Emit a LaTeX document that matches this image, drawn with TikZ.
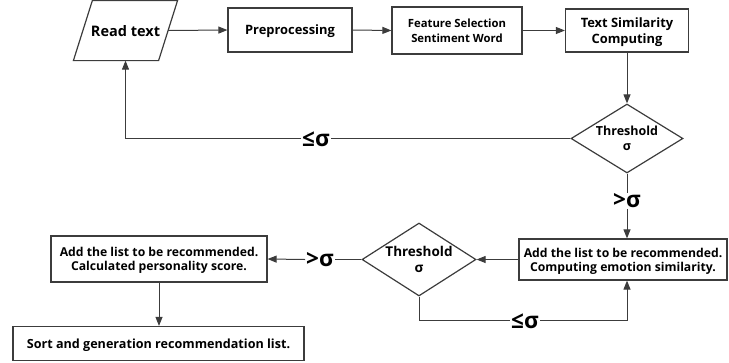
\documentclass[tikz,border=0pt]{standalone}
\usepackage{fontspec}
\setmainfont{Open Sans}
\usetikzlibrary{shapes.geometric,arrows.meta}
\definecolor{linegray}{HTML}{3C3C3C}
\tikzset{
  x=1pt, y=-1pt,
  base/.style={draw=linegray, line width=1.2pt, align=center, font=\bfseries, inner sep=1pt},
  procbox/.style={base, rectangle, text depth=0pt},
  iobox/.style={base, draw=none, rectangle, text depth=0pt},
  slant/.style={draw=linegray, line width=1.2pt, line join=miter},
  decide/.style={base, diamond, inner sep=0pt},
  cond/.style={font=\bfseries\fontsize{22.5}{22.5}\selectfont, inner sep=1pt},
  flow/.style={draw=linegray, line width=1pt, -{Triangle[length=9pt,width=7pt]}},
  link/.style={draw=linegray, line width=1pt},
}
\begin{document}
\begin{tikzpicture}
\useasboundingbox (0,0) rectangle (729,362);

% top row: input parallelogram, drawn around its text node
\node[iobox, minimum width=84pt, minimum height=59pt, font=\bfseries\fontsize{14.5}{16}\selectfont] (read) at (125.5,30.5) {Read text};
\draw[slant] ([xshift=9.5pt]read.north west) -- ([xshift=9.5pt]read.north east)
  -- ([xshift=-9.5pt]read.south east) -- ([xshift=-9.5pt]read.south west) -- cycle;
\node[procbox, minimum width=124pt, minimum height=44pt, font=\bfseries\fontsize{12.9}{14}\selectfont] (pre) at (290,30) {Preprocessing};
\node[procbox, minimum width=130pt, minimum height=47pt, font=\bfseries\fontsize{11.3}{14.5}\selectfont] (feat) at (457,30.5) {Feature Selection\\Sentiment Word};
\node[procbox, minimum width=123pt, minimum height=43pt, font=\bfseries\fontsize{12.9}{15.5}\selectfont] (sim) at (627,30.5) {Text Similarity\\Computing};

% first decision
\node[decide, shape aspect=1.62, minimum width=112pt, minimum height=69pt, font=\bfseries\fontsize{12.5}{14.5}\selectfont] (th1) at (627,138.5) {Threshold\\σ};

% middle row
\node[procbox, minimum width=208pt, minimum height=41pt, font=\bfseries\fontsize{12.2}{14}\selectfont] (emo) at (623,259.5) {Add the list to be recommended.\\Computing emotion similarity.};
\node[decide, shape aspect=1.56, minimum width=114pt, minimum height=73pt, font=\bfseries\fontsize{13.5}{15.5}\selectfont] (th2) at (419,259.5) {Threshold\\σ};
\node[procbox, minimum width=216pt, minimum height=46pt, font=\bfseries\fontsize{12.2}{14.5}\selectfont] (pers) at (159,259) {Add the list to be recommended.\\Calculated personality score.};

% bottom
\node[procbox, minimum width=291pt, minimum height=34pt, font=\bfseries\fontsize{12.6}{14}\selectfont] (sort) at (158.5,343.5) {Sort and generation recommendation list.};

% condition labels
\node[cond] (gt1) at (627,201) {>σ};
\node[cond] (le1) at (316,139) {≤σ};
\node[cond] (gt2) at (320,260) {>σ};
\node[cond] (le2) at (525,321) {≤σ};
\coordinate (loop) at (419,320.5);

% connectors
\draw[flow] (read.east) -- (pre.west);
\draw[flow] (pre.east) -- (feat.west);
\draw[flow] (feat.east) -- (sim.west);
\draw[flow] (sim.south) -- (th1.north);
\draw[link] (th1.west) -- (th1.west -| le1.east);
\draw[flow] (th1.west -| le1.west) -| (read.south);
\draw[link] (th1.south) -- (gt1.north);
\draw[flow] (gt1.south) -- (gt1.south |- emo.north);
\draw[flow] (emo.west) -- (th2.east);
\draw[link] (th2.west) -- (th2.west -| gt2.east);
\draw[flow] (th2.west -| gt2.west) -- (pers.east);
\draw[flow] (pers.south) -- (pers.south |- sort.north);
\draw[link] (th2.south) -- (loop) -- (loop -| le2.west);
\draw[flow] (loop -| le2.east) -| (gt1.south |- emo.south);
\end{tikzpicture}
\end{document}
